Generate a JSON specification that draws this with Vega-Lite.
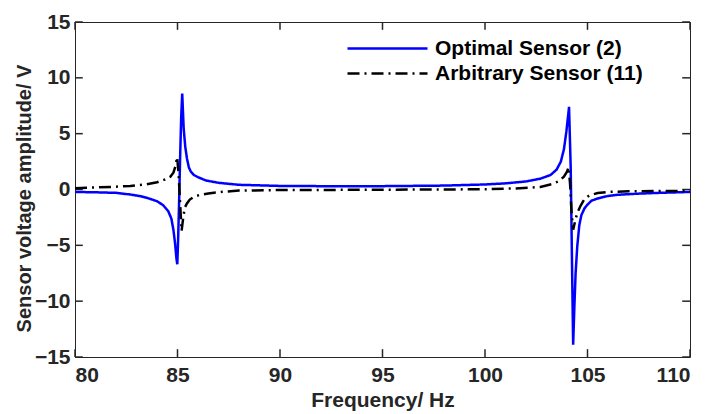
{
  "$schema": "https://vega.github.io/schema/vega-lite/v6.json",
  "width": 615,
  "height": 335,
  "autosize": {"type": "none"},
  "padding": {"left": 75, "top": 22, "right": 18, "bottom": 57},
  "background": "white",
  "config": {
    "view": {"stroke": "#262626", "strokeWidth": 1},
    "font": "Liberation Sans",
    "axis": {
      "domain": false,
      "grid": false,
      "labelFont": "Liberation Sans",
      "labelFontWeight": "bold",
      "labelFontSize": 21,
      "labelColor": "#262626",
      "titleFont": "Liberation Sans",
      "titleFontWeight": "bold",
      "titleFontSize": 21,
      "titleColor": "#262626"
    }
  },
  "datasets": {
    "xticks": [{"t": 80}, {"t": 85}, {"t": 90}, {"t": 95}, {"t": 100}, {"t": 105}, {"t": 110}],
    "yticks": [{"t": -15}, {"t": -10}, {"t": -5}, {"t": 0}, {"t": 5}, {"t": 10}, {"t": 15}],
    "curves": [
      {"f": 80.0, "v": -0.22, "sensor": "Optimal Sensor (2)"},
      {"f": 81.0, "v": -0.25, "sensor": "Optimal Sensor (2)"},
      {"f": 82.0, "v": -0.3, "sensor": "Optimal Sensor (2)"},
      {"f": 82.7, "v": -0.45, "sensor": "Optimal Sensor (2)"},
      {"f": 83.2, "v": -0.6, "sensor": "Optimal Sensor (2)"},
      {"f": 83.6, "v": -0.8, "sensor": "Optimal Sensor (2)"},
      {"f": 84.0, "v": -1.05, "sensor": "Optimal Sensor (2)"},
      {"f": 84.3, "v": -1.4, "sensor": "Optimal Sensor (2)"},
      {"f": 84.55, "v": -1.95, "sensor": "Optimal Sensor (2)"},
      {"f": 84.7, "v": -2.6, "sensor": "Optimal Sensor (2)"},
      {"f": 84.8, "v": -3.6, "sensor": "Optimal Sensor (2)"},
      {"f": 84.88, "v": -4.8, "sensor": "Optimal Sensor (2)"},
      {"f": 84.95, "v": -6.2, "sensor": "Optimal Sensor (2)"},
      {"f": 84.99, "v": -6.7, "sensor": "Optimal Sensor (2)"},
      {"f": 85.03, "v": -4.5, "sensor": "Optimal Sensor (2)"},
      {"f": 85.08, "v": -1.0, "sensor": "Optimal Sensor (2)"},
      {"f": 85.13, "v": 3.0, "sensor": "Optimal Sensor (2)"},
      {"f": 85.18, "v": 6.5, "sensor": "Optimal Sensor (2)"},
      {"f": 85.23, "v": 8.6, "sensor": "Optimal Sensor (2)"},
      {"f": 85.3, "v": 5.5, "sensor": "Optimal Sensor (2)"},
      {"f": 85.38, "v": 3.8, "sensor": "Optimal Sensor (2)"},
      {"f": 85.46, "v": 2.8, "sensor": "Optimal Sensor (2)"},
      {"f": 85.55, "v": 2.0, "sensor": "Optimal Sensor (2)"},
      {"f": 85.65, "v": 1.6, "sensor": "Optimal Sensor (2)"},
      {"f": 85.8, "v": 1.3, "sensor": "Optimal Sensor (2)"},
      {"f": 86.0, "v": 1.1, "sensor": "Optimal Sensor (2)"},
      {"f": 86.4, "v": 0.8, "sensor": "Optimal Sensor (2)"},
      {"f": 87.0, "v": 0.6, "sensor": "Optimal Sensor (2)"},
      {"f": 88.0, "v": 0.42, "sensor": "Optimal Sensor (2)"},
      {"f": 90.0, "v": 0.32, "sensor": "Optimal Sensor (2)"},
      {"f": 92.0, "v": 0.3, "sensor": "Optimal Sensor (2)"},
      {"f": 95.0, "v": 0.3, "sensor": "Optimal Sensor (2)"},
      {"f": 98.0, "v": 0.35, "sensor": "Optimal Sensor (2)"},
      {"f": 100.0, "v": 0.45, "sensor": "Optimal Sensor (2)"},
      {"f": 101.0, "v": 0.55, "sensor": "Optimal Sensor (2)"},
      {"f": 102.0, "v": 0.72, "sensor": "Optimal Sensor (2)"},
      {"f": 102.7, "v": 0.97, "sensor": "Optimal Sensor (2)"},
      {"f": 103.2, "v": 1.3, "sensor": "Optimal Sensor (2)"},
      {"f": 103.5, "v": 1.8, "sensor": "Optimal Sensor (2)"},
      {"f": 103.7, "v": 2.5, "sensor": "Optimal Sensor (2)"},
      {"f": 103.85, "v": 3.6, "sensor": "Optimal Sensor (2)"},
      {"f": 103.97, "v": 5.2, "sensor": "Optimal Sensor (2)"},
      {"f": 104.1, "v": 7.4, "sensor": "Optimal Sensor (2)"},
      {"f": 104.18, "v": 2.0, "sensor": "Optimal Sensor (2)"},
      {"f": 104.24, "v": -6.0, "sensor": "Optimal Sensor (2)"},
      {"f": 104.3, "v": -13.9, "sensor": "Optimal Sensor (2)"},
      {"f": 104.36, "v": -10.5, "sensor": "Optimal Sensor (2)"},
      {"f": 104.42, "v": -7.5, "sensor": "Optimal Sensor (2)"},
      {"f": 104.5, "v": -5.1, "sensor": "Optimal Sensor (2)"},
      {"f": 104.6, "v": -3.2, "sensor": "Optimal Sensor (2)"},
      {"f": 104.7, "v": -2.3, "sensor": "Optimal Sensor (2)"},
      {"f": 104.85, "v": -1.7, "sensor": "Optimal Sensor (2)"},
      {"f": 105.0, "v": -1.35, "sensor": "Optimal Sensor (2)"},
      {"f": 105.2, "v": -1.0, "sensor": "Optimal Sensor (2)"},
      {"f": 105.5, "v": -0.8, "sensor": "Optimal Sensor (2)"},
      {"f": 106.0, "v": -0.58, "sensor": "Optimal Sensor (2)"},
      {"f": 106.5, "v": -0.47, "sensor": "Optimal Sensor (2)"},
      {"f": 107.5, "v": -0.37, "sensor": "Optimal Sensor (2)"},
      {"f": 108.5, "v": -0.3, "sensor": "Optimal Sensor (2)"},
      {"f": 110.0, "v": -0.22, "sensor": "Optimal Sensor (2)"},
      {"f": 80.0, "v": 0.12, "sensor": "Arbitrary Sensor (11)"},
      {"f": 81.0, "v": 0.18, "sensor": "Arbitrary Sensor (11)"},
      {"f": 82.0, "v": 0.25, "sensor": "Arbitrary Sensor (11)"},
      {"f": 82.7, "v": 0.32, "sensor": "Arbitrary Sensor (11)"},
      {"f": 83.5, "v": 0.47, "sensor": "Arbitrary Sensor (11)"},
      {"f": 84.0, "v": 0.65, "sensor": "Arbitrary Sensor (11)"},
      {"f": 84.4, "v": 0.9, "sensor": "Arbitrary Sensor (11)"},
      {"f": 84.65, "v": 1.15, "sensor": "Arbitrary Sensor (11)"},
      {"f": 84.8, "v": 1.5, "sensor": "Arbitrary Sensor (11)"},
      {"f": 84.9, "v": 2.1, "sensor": "Arbitrary Sensor (11)"},
      {"f": 84.98, "v": 2.9, "sensor": "Arbitrary Sensor (11)"},
      {"f": 85.05, "v": 1.5, "sensor": "Arbitrary Sensor (11)"},
      {"f": 85.12, "v": -1.0, "sensor": "Arbitrary Sensor (11)"},
      {"f": 85.2, "v": -3.7, "sensor": "Arbitrary Sensor (11)"},
      {"f": 85.28, "v": -2.5, "sensor": "Arbitrary Sensor (11)"},
      {"f": 85.36, "v": -1.6, "sensor": "Arbitrary Sensor (11)"},
      {"f": 85.46, "v": -1.25, "sensor": "Arbitrary Sensor (11)"},
      {"f": 85.6, "v": -0.9, "sensor": "Arbitrary Sensor (11)"},
      {"f": 85.8, "v": -0.65, "sensor": "Arbitrary Sensor (11)"},
      {"f": 86.1, "v": -0.48, "sensor": "Arbitrary Sensor (11)"},
      {"f": 86.5, "v": -0.36, "sensor": "Arbitrary Sensor (11)"},
      {"f": 87.2, "v": -0.2, "sensor": "Arbitrary Sensor (11)"},
      {"f": 88.0, "v": -0.1, "sensor": "Arbitrary Sensor (11)"},
      {"f": 90.0, "v": -0.05, "sensor": "Arbitrary Sensor (11)"},
      {"f": 95.0, "v": -0.02, "sensor": "Arbitrary Sensor (11)"},
      {"f": 100.0, "v": 0.02, "sensor": "Arbitrary Sensor (11)"},
      {"f": 101.5, "v": 0.1, "sensor": "Arbitrary Sensor (11)"},
      {"f": 102.7, "v": 0.22, "sensor": "Arbitrary Sensor (11)"},
      {"f": 103.3, "v": 0.5, "sensor": "Arbitrary Sensor (11)"},
      {"f": 103.6, "v": 0.75, "sensor": "Arbitrary Sensor (11)"},
      {"f": 103.85, "v": 1.15, "sensor": "Arbitrary Sensor (11)"},
      {"f": 104.0, "v": 1.6, "sensor": "Arbitrary Sensor (11)"},
      {"f": 104.08, "v": 2.0, "sensor": "Arbitrary Sensor (11)"},
      {"f": 104.15, "v": 0.5, "sensor": "Arbitrary Sensor (11)"},
      {"f": 104.22, "v": -2.0, "sensor": "Arbitrary Sensor (11)"},
      {"f": 104.3, "v": -3.6, "sensor": "Arbitrary Sensor (11)"},
      {"f": 104.4, "v": -2.8, "sensor": "Arbitrary Sensor (11)"},
      {"f": 104.5, "v": -2.1, "sensor": "Arbitrary Sensor (11)"},
      {"f": 104.65, "v": -1.5, "sensor": "Arbitrary Sensor (11)"},
      {"f": 104.85, "v": -0.85, "sensor": "Arbitrary Sensor (11)"},
      {"f": 105.1, "v": -0.52, "sensor": "Arbitrary Sensor (11)"},
      {"f": 105.5, "v": -0.32, "sensor": "Arbitrary Sensor (11)"},
      {"f": 106.0, "v": -0.22, "sensor": "Arbitrary Sensor (11)"},
      {"f": 107.0, "v": -0.16, "sensor": "Arbitrary Sensor (11)"},
      {"f": 110.0, "v": -0.12, "sensor": "Arbitrary Sensor (11)"}
    ]
  },
  "layer": [
    {
      "data": {"name": "xticks"},
      "mark": {"type": "rule", "color": "#262626", "strokeWidth": 1.5},
      "encoding": {
        "x": {"field": "t", "type": "quantitative", "axis": null},
        "y": {"datum": -15, "axis": null},
        "y2": {"datum": -14.3}
      }
    },
    {
      "data": {"name": "xticks"},
      "mark": {"type": "rule", "color": "#262626", "strokeWidth": 1.5},
      "encoding": {
        "x": {"field": "t", "type": "quantitative", "axis": null},
        "y": {"datum": 15, "axis": null},
        "y2": {"datum": 14.3}
      }
    },
    {
      "data": {"name": "yticks"},
      "mark": {"type": "rule", "color": "#262626", "strokeWidth": 1.5},
      "encoding": {
        "y": {"field": "t", "type": "quantitative", "axis": null},
        "x": {"datum": 80, "axis": null},
        "x2": {"datum": 80.38}
      }
    },
    {
      "data": {"name": "yticks"},
      "mark": {"type": "rule", "color": "#262626", "strokeWidth": 1.5},
      "encoding": {
        "y": {"field": "t", "type": "quantitative", "axis": null},
        "x": {"datum": 110, "axis": null},
        "x2": {"datum": 109.62}
      }
    },
    {
      "data": {"name": "curves"},
      "mark": {"type": "line", "strokeWidth": 2.5, "strokeCap": "butt"},
      "encoding": {
        "x": {
          "field": "f",
          "type": "quantitative",
          "scale": {"domain": [80, 110], "nice": false, "zero": false},
          "axis": {
            "orient": "top",
            "offset": -335,
            "values": [80, 85, 90, 95, 100, 105, 110],
            "ticks": true,
            "tickSize": 7,
            "tickOpacity": 0,
            "title": "Frequency/ Hz",
            "labelBaseline": "top",
            "labelPadding": -14,
            "titleY": 43,
            "titleBaseline": "middle"
          }
        },
        "y": {
          "field": "v",
          "type": "quantitative",
          "scale": {"domain": [-15, 15], "nice": false, "zero": false},
          "axis": {
            "orient": "right",
            "offset": -615,
            "values": [-15, -10, -5, 0, 5, 10, 15],
            "ticks": true,
            "tickSize": 7,
            "tickOpacity": 0,
            "title": "Sensor voltage amplitude/ V",
            "titleFontSize": 20,
            "labelAlign": "right",
            "labelPadding": -12,
            "titleX": -51,
            "titleY": 176,
            "titleAngle": 270,
            "titleBaseline": "middle",
            "titleAlign": "center"
          }
        },
        "color": {
          "field": "sensor",
          "type": "nominal",
          "scale": {
            "domain": ["Optimal Sensor (2)", "Arbitrary Sensor (11)"],
            "range": ["#0000ff", "#000000"]
          },
          "legend": {
            "orient": "none",
            "legendX": 301,
            "legendY": 15,
            "title": null,
            "symbolType": "M-4,0H4",
            "symbolSize": 400,
            "symbolStrokeWidth": 2.5,
            "labelFont": "Liberation Sans",
            "labelFontWeight": "bold",
            "labelFontSize": 21,
            "labelColor": "#000000",
            "labelOffset": 36,
            "labelLimit": 400,
            "padding": 0,
            "rowPadding": 3
          }
        },
        "strokeDash": {
          "field": "sensor",
          "type": "nominal",
          "scale": {
            "domain": ["Optimal Sensor (2)", "Arbitrary Sensor (11)"],
            "range": [[1, 0], [12, 5, 2, 5]]
          }
        }
      }
    }
  ],
  "resolve": {"axis": {"x": "independent", "y": "independent"}}
}
